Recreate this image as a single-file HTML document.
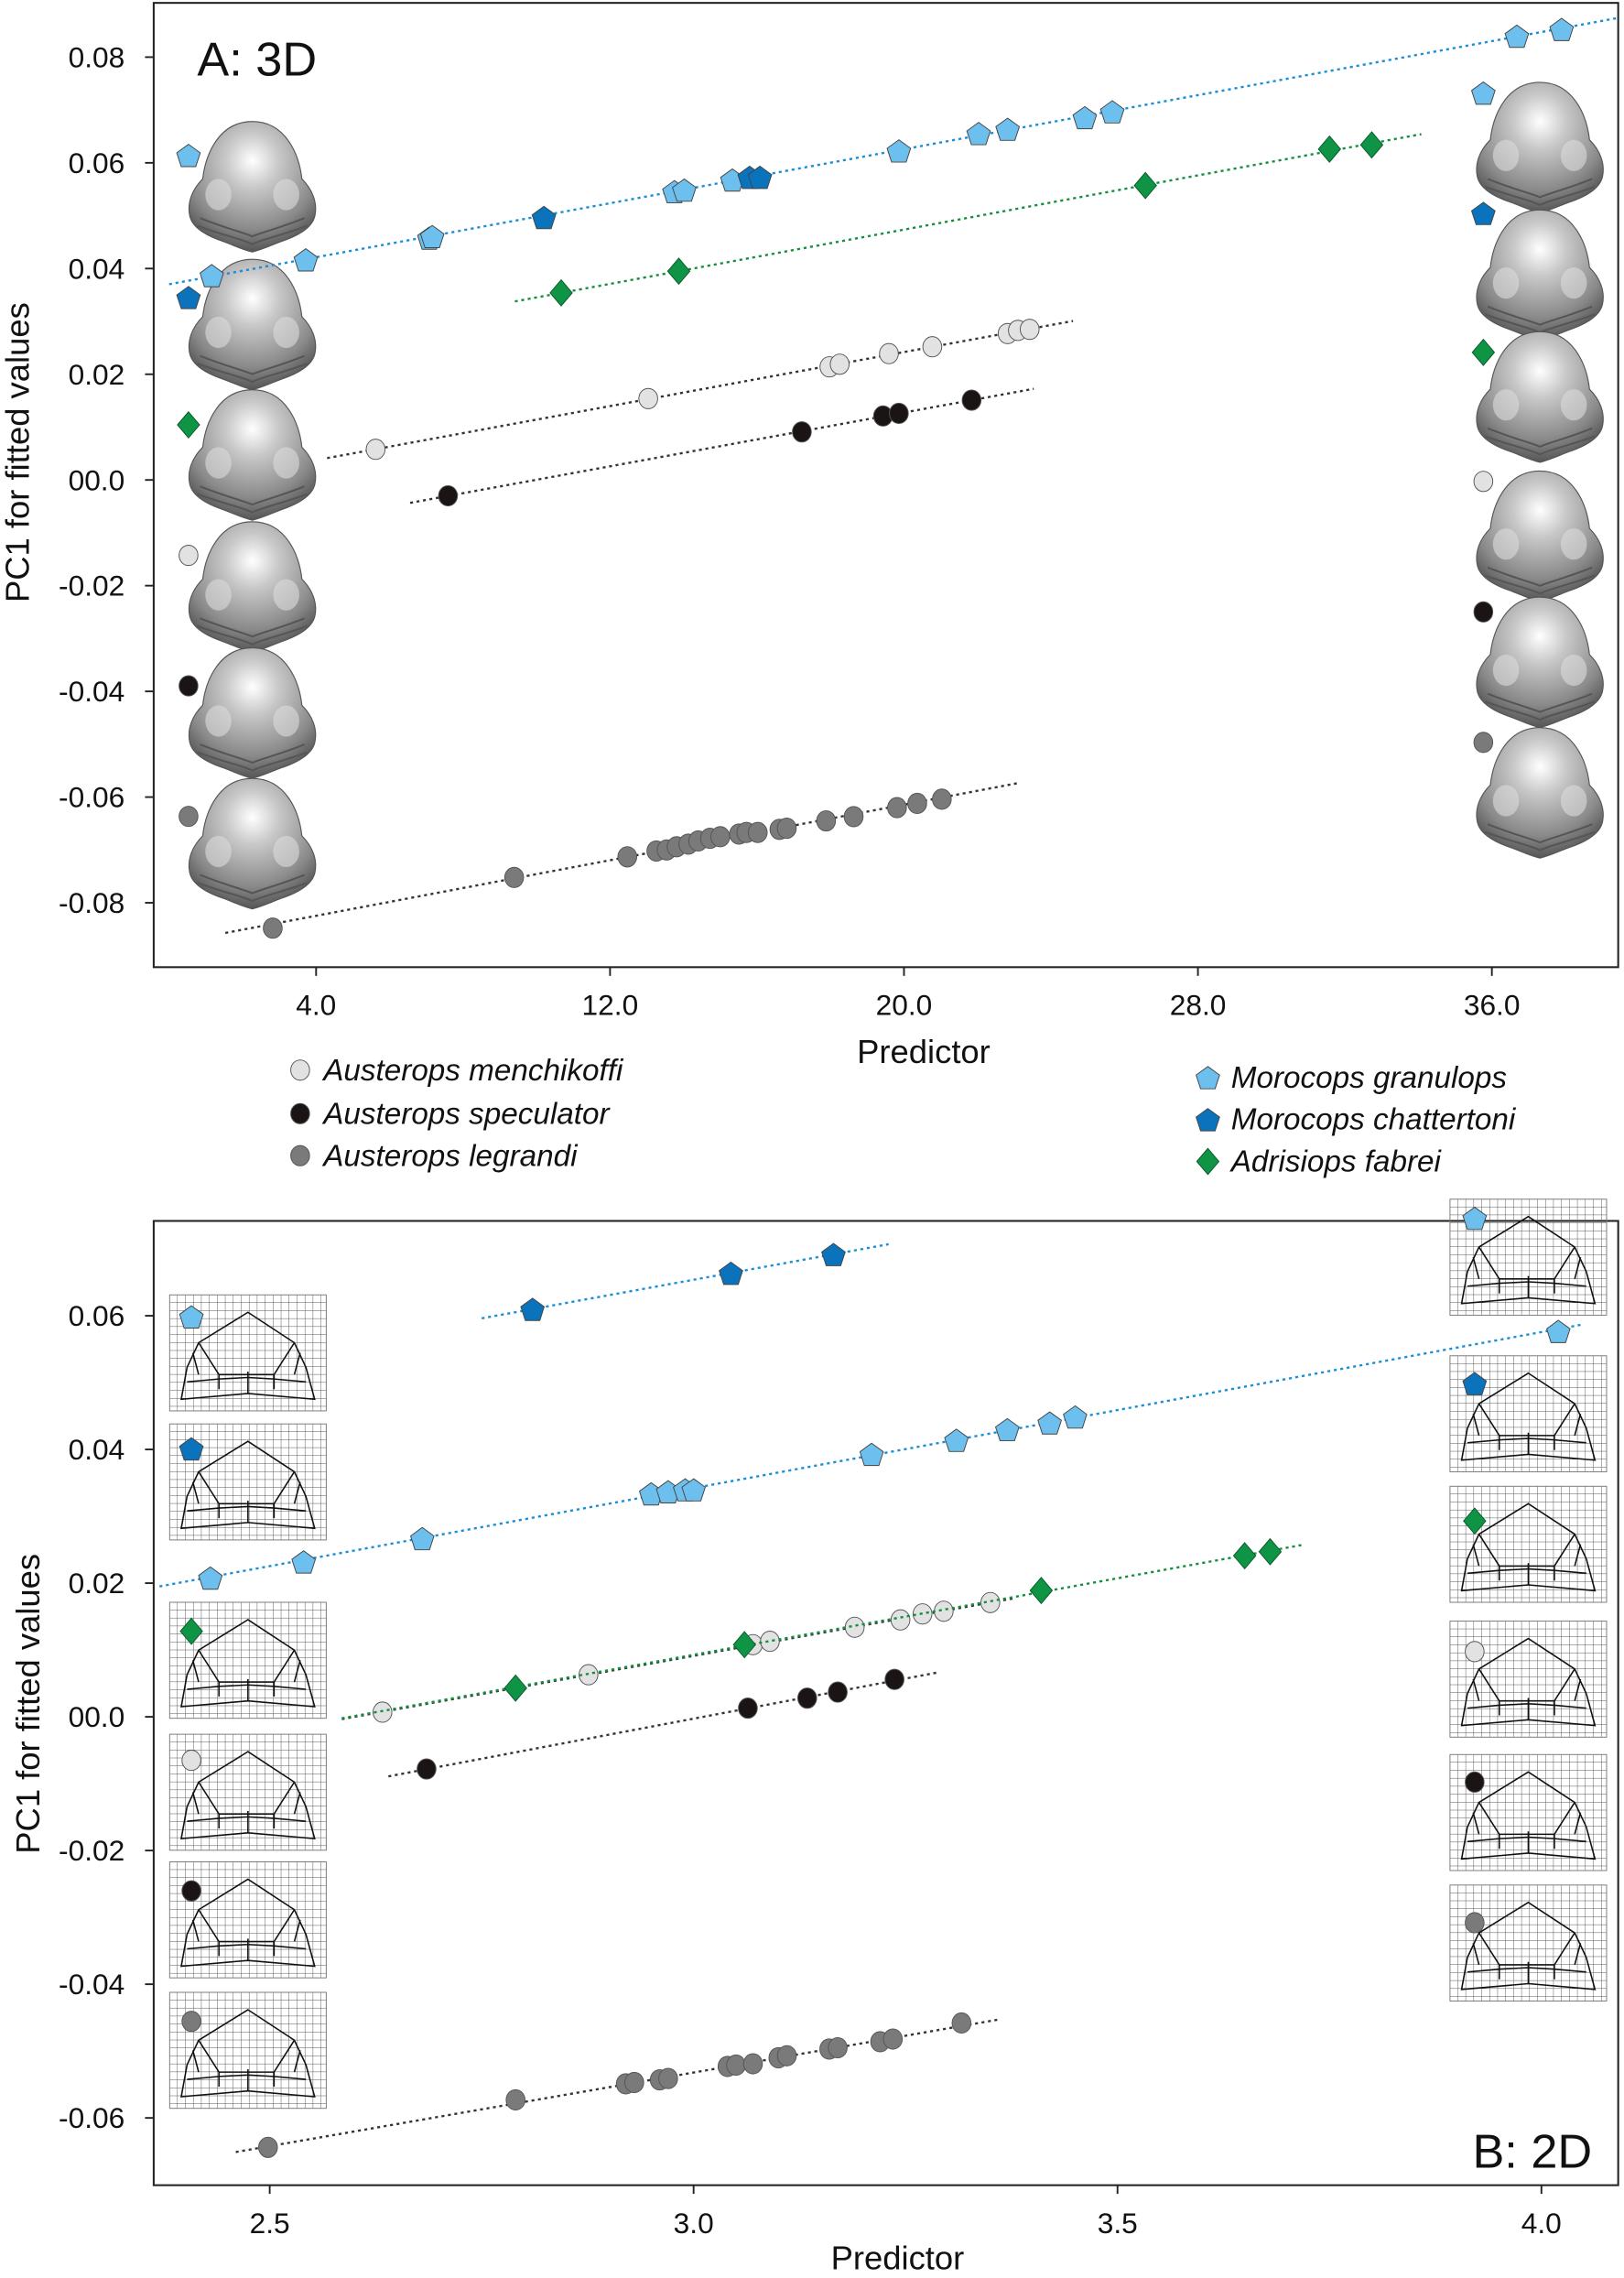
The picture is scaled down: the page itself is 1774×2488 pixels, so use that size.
<!DOCTYPE html>
<html><head><meta charset="utf-8">
<style>
html,body{margin:0;padding:0;background:#fff;}
svg{display:block;}
text{font-family:"Liberation Sans",sans-serif;fill:#111;}
</style></head>
<body>
<svg id="fig" xmlns="http://www.w3.org/2000/svg" width="1774" height="2488" viewBox="0 0 1120 1571" preserveAspectRatio="none">
<defs>
<radialGradient id="headGrad" cx="0.5" cy="0.3" r="0.7">
<stop offset="0" stop-color="#ffffff"/><stop offset="0.3" stop-color="#c8c8c8"/><stop offset="0.75" stop-color="#8a8a8a"/><stop offset="1" stop-color="#555"/>
</radialGradient>
<pattern id="gridPat" width="5.5" height="5.5" patternUnits="userSpaceOnUse">
<path d="M5.5 0V5.5M0 5.5H5.5" stroke="#555" stroke-width="0.6" fill="none"/>
</pattern>
</defs>
<g id="panelA">
<rect x="106" y="2" width="1010" height="665" fill="none" stroke="#222" stroke-width="1.3"/>
<text x="136" y="52" font-size="33">A: 3D</text>
<text x="637" y="733" font-size="23" text-anchor="middle">Predictor</text>
<text transform="translate(20,312) rotate(-90)" font-size="23" text-anchor="middle">PC1 for fitted values</text>
<g id="axA"></g>
<g id="iconsA"></g>
<g id="marksA"></g>
</g>
<g id="legend"></g>
<g id="panelB">
<rect x="106" y="842" width="1010" height="665" fill="none" stroke="#222" stroke-width="1.3"/>
<text x="1098" y="1495" font-size="33" text-anchor="end">B: 2D</text>
<text x="619" y="1565" font-size="23" text-anchor="middle">Predictor</text>
<text transform="translate(27,1175) rotate(-90)" font-size="23" text-anchor="middle">PC1 for fitted values</text>
<g id="axB"></g>
<g id="iconsB"></g>
<g id="marksB"></g>
</g>
</svg>
<script>
// ---- Panel A data ----
const aXTicks = [4, 12, 20, 28, 36];
const aXTickLabels = ["4.0", "12.0", "20.0", "28.0", "36.0"];
const aYTicks = [0.08, 0.06, 0.04, 0.02, 0, -0.02, -0.04, -0.06, -0.08];
const aYTickLabels = ["0.08", "0.06", "0.04", "0.02", "00.0", "-0.02", "-0.04", "-0.06", "-0.08"];
const aGranX = [1.16, 3.72, 7.08, 7.16, 13.75, 14.02, 15.33, 19.86, 22.03, 22.82, 24.92, 25.67, 36.68, 37.9];
const aGranY = [0.0387, 0.0417, 0.0458, 0.0461, 0.0546, 0.0549, 0.0568, 0.0623, 0.0656, 0.0664, 0.0686, 0.0697, 0.0840, 0.0853];
const aChatX = [10.2, 15.8, 16.08];
const aChatY = [0.0497, 0.0573, 0.0573];
const aFabX = [10.67, 13.87, 26.57, 31.58, 32.73];
const aFabY = [0.0354, 0.0395, 0.0557, 0.0626, 0.0634];
const aMenX = [5.62, 13.04, 17.97, 18.25, 19.59, 20.77, 22.82, 23.1, 23.42];
const aMenY = [0.0058, 0.0154, 0.0214, 0.0219, 0.0239, 0.0252, 0.0277, 0.0283, 0.0285];
const aSpeX = [7.59, 17.22, 19.43, 19.86, 21.84];
const aSpeY = [-0.0030, 0.0091, 0.0121, 0.0126, 0.0151];
const aLegX = [2.82, 9.39, 12.47, 13.26, 13.54, 13.81, 14.13, 14.4, 14.72, 15.0, 15.51, 15.71, 16.02, 16.61, 16.81, 17.88, 18.63, 19.81, 20.36, 21.03];
const aLegY = [-0.0848, -0.0752, -0.0713, -0.0702, -0.0700, -0.0694, -0.0689, -0.0683, -0.0678, -0.0675, -0.0670, -0.0667, -0.0667, -0.0661, -0.0659, -0.0645, -0.0637, -0.0620, -0.0612, -0.0604];
const aGranLine = [0.0, 39.4];
const aChatLine = [];
const aFabLine = [9.41, 34.08];
const aMenLine = [4.3, 24.6];
const aSpeLine = [6.56, 23.53];
const aLegLine = [1.53, 23.16];

// ---- Panel B data ----
const bXTicks = [2.5, 3.0, 3.5, 4.0];
const bXTickLabels = ["2.5", "3.0", "3.5", "4.0"];
const bYTicks = [0.06, 0.04, 0.02, 0, -0.02, -0.04, -0.06];
const bYTickLabels = ["0.06", "0.04", "0.02", "00.0", "-0.02", "-0.04", "-0.06"];
const bChatX = [2.81, 3.044, 3.165];
const bChatY = [0.0610, 0.0664, 0.0692];
const bGranX = [2.43, 2.54, 2.68, 2.95, 2.97, 2.99, 3.0, 3.21, 3.31, 3.37, 3.42, 3.45, 4.02];
const bGranY = [0.0208, 0.0232, 0.0267, 0.0334, 0.0337, 0.0340, 0.0340, 0.0393, 0.0414, 0.0430, 0.0440, 0.0449, 0.0577];
const bFabX = [2.79, 3.06, 3.41, 3.65, 3.68];
const bFabY = [0.0043, 0.0108, 0.0189, 0.0241, 0.0247];
const bMenX = [2.633, 2.876, 3.07, 3.09, 3.19, 3.244, 3.27, 3.295, 3.35];
const bMenY = [0.0007, 0.0063, 0.0108, 0.0113, 0.0134, 0.0145, 0.0154, 0.0158, 0.0171];
const bSpeX = [2.685, 3.064, 3.134, 3.17, 3.237];
const bSpeY = [-0.0078, 0.0013, 0.0028, 0.0037, 0.0056];
const bLegX = [2.498, 2.79, 2.92, 2.93, 2.96, 2.97, 3.04, 3.05, 3.07, 3.10, 3.11, 3.16, 3.17, 3.22, 3.235, 3.316];
const bLegY = [-0.0644, -0.0573, -0.0549, -0.0547, -0.0543, -0.0541, -0.0523, -0.0521, -0.0519, -0.0510, -0.0507, -0.0497, -0.0495, -0.0486, -0.0482, -0.0458];
const bChatLine = [2.75, 3.23];
const bGranLine = [2.37, 4.05];
const bFabLine = [2.585, 3.72];
const bMenLine = [2.585, 3.38];
const bSpeLine = [2.64, 3.29];
const bLegLine = [2.46, 3.36];

const NS = "http://www.w3.org/2000/svg";
function mk(tag, attrs, parent){const e=document.createElementNS(NS,tag);for(const k in attrs)e.setAttribute(k,attrs[k]);parent.appendChild(e);return e;}

const xA = v => 218 + (v - 4) * 25.34;
const yA = v => 331 - v * 3645;
const xB = v => 186 + (v - 2.5) * 584.7;
const yB = v => 1184 - v * 4610;

const COL = {gran:"#6dc0ee", chat:"#0a73bb", fab:"#0e9444", men:"#e2e2e2", spe:"#1a1414", leg:"#7a7a7a"};

function marker(type, cx, cy, fill, parent, name){
  let e;
  if(type==="pent"){
    const r=8.5, pts=[];
    for(let k=0;k<5;k++){const a=(-90+72*k)*Math.PI/180;pts.push((cx+r*Math.cos(a)).toFixed(1)+","+(cy+r*Math.sin(a)+1).toFixed(1));}
    e=mk("polygon",{points:pts.join(" "),fill:fill,stroke:"#444","stroke-width":0.6},parent);
  } else if(type==="dia"){
    const r=9;
    e=mk("polygon",{points:`${cx},${cy-r} ${cx+r*0.85},${cy} ${cx},${cy+r} ${cx-r*0.85},${cy}`,fill:fill,stroke:"#0a5a2a","stroke-width":0.6},parent);
  } else {
    e=mk("ellipse",{cx:cx,cy:cy,rx:6.5,ry:7,fill:fill,stroke:"#555","stroke-width":0.6},parent);
  }
  
  
  return e;
}

function axes(g, xs, xl, ys, yl, fx, fy, top, bottom, left, tickY){
  xs.forEach((v,i)=>{
    const l=mk("line",{x1:fx(v),x2:fx(v),y1:bottom,y2:bottom+6,stroke:"#222","stroke-width":1.2},g);
    
    
    const t=mk("text",{x:fx(v),y:tickY,"font-size":20,"text-anchor":"middle"},g);
    t.textContent=xl[i];
    
    
  });
  ys.forEach((v,i)=>{
    const l=mk("line",{x1:left-6,x2:left,y1:fy(v),y2:fy(v),stroke:"#222","stroke-width":1.2},g);
    
    
    const t=mk("text",{x:86,y:fy(v)+7,"font-size":20,"text-anchor":"end"},g);
    t.textContent=yl[i];
    
    
  });
}

function series(g, xsArr, ysArr, range, fx, fy, type, col, lineCol, name){
  const n=xsArr.length;
  if(range.length===2){
    let mx=0,my=0;for(let i=0;i<n;i++){mx+=xsArr[i];my+=ysArr[i];}mx/=n;my/=n;
    let sxy=0,sxx=0;for(let i=0;i<n;i++){sxy+=(xsArr[i]-mx)*(ysArr[i]-my);sxx+=(xsArr[i]-mx)**2;}
    const b=sxy/sxx,a=my-b*mx;
    const l=mk("line",{x1:fx(range[0]),y1:fy(a+b*range[0]),x2:fx(range[1]),y2:fy(a+b*range[1]),stroke:lineCol,"stroke-width":1.5,"stroke-dasharray":"2 2.5"},g);
    
    
  }
  for(let i=0;i<n;i++) marker(type, fx(xsArr[i]), fy(ysArr[i]), col, g, name+'-point');
}

axes(document.getElementById("axA"), aXTicks, aXTickLabels, aYTicks, aYTickLabels, xA, yA, 2, 667, 106, 700);
axes(document.getElementById("axB"), bXTicks, bXTickLabels, bYTicks, bYTickLabels, xB, yB, 842, 1507, 106, 1540);

// Panel A icons (3D heads)
const iconsA=document.getElementById("iconsA");
const headPath="M0,-48 C26,-48 36,-22 38,-4 C46,4 50,14 48,24 C46,34 34,40 22,44 C14,47 8,50 0,52 C-8,50 -14,47 -22,44 C-34,40 -46,34 -48,24 C-50,14 -46,4 -38,-4 C-36,-22 -26,-48 0,-48Z";
const headLeftY=[127,222,312,403,490,580];
const headRightY=[100,188,272,368,455,545];
const orderCols=["gran","chat","fab","men","spe","leg"];
const orderTypes=["pent","pent","dia","circ","circ","circ"];
const mkLeftA=[107,205,293,383,473,563];
const mkRightA=[64,147,243,332,422,512];
function head(cx,cy){
  const g=mk("g",{transform:`translate(${cx},${cy}) scale(0.9)`},iconsA);
  
  
  mk("path",{d:headPath,fill:"url(#headGrad)",stroke:"#555","stroke-width":0.8},g);
  mk("path",{d:"M-40,26 C-20,34 -10,36 0,40 C10,36 20,34 40,26 M-42,32 C-20,40 -8,42 0,46 C8,42 20,40 42,32",fill:"none",stroke:"#555","stroke-width":1.4},g);
  mk("ellipse",{cx:-26,cy:8,rx:10,ry:12,fill:"#dcdcdc",opacity:0.6},g);
  mk("ellipse",{cx:26,cy:8,rx:10,ry:12,fill:"#dcdcdc",opacity:0.6},g);
}
headLeftY.forEach(y=>head(174,y));
headRightY.forEach(y=>head(1062,y));
orderCols.forEach((c,i)=>{marker(orderTypes[i],130,mkLeftA[i],COL[c],iconsA,'icon-marker');marker(orderTypes[i],1023,mkRightA[i],COL[c],iconsA,'icon-marker');});

const mA=document.getElementById("marksA");
series(mA,aGranX,aGranY,aGranLine,xA,yA,"pent",COL.gran,"#1a8fd8","granulops-a");
series(mA,aFabX,aFabY,aFabLine,xA,yA,"dia",COL.fab,"#14903c","fabrei-a");
series(mA,aMenX,aMenY,aMenLine,xA,yA,"circ",COL.men,"#333","menchikoffi-a");
series(mA,aSpeX,aSpeY,aSpeLine,xA,yA,"circ",COL.spe,"#333","speculator-a");
series(mA,aLegX,aLegY,aLegLine,xA,yA,"circ",COL.leg,"#333","legrandi-a");
series(mA,aChatX,aChatY,aChatLine,xA,yA,"pent",COL.chat,"#1a8fd8","chattertoni-a");

// Panel B icons (grids)
const iconsB=document.getElementById("iconsB");
const gridLeftY=[893,982,1105,1196,1284,1374];
const gridRightY=[827,935,1025,1118,1210,1300];
const mkLeftB=[908,999,1125,1214,1304,1394];
const mkRightB=[840,954,1049,1139,1229,1326];
function gridIcon(x,y){
  const g=mk("g",{transform:`translate(${x},${y})`},iconsB);
  
  
  mk("rect",{x:0,y:0,width:108,height:80,fill:"url(#gridPat)",stroke:"#777","stroke-width":0.6},g);
  mk("path",{d:"M54,12 L20,33 L12,50 L8,72 L54,68 L100,72 L94,50 L86,33 Z M20,33 L34,55 L34,65 M86,33 L72,55 L72,65 M12,60 L34,58 L54,57 L72,58 L94,60 M34,55 L72,55 M54,53 L54,68 M16,40 L20,55 M90,40 L86,55",fill:"none",stroke:"#111","stroke-width":1},g);
}
gridLeftY.forEach(y=>gridIcon(117,y));
gridRightY.forEach(y=>gridIcon(1000,y));
orderCols.forEach((c,i)=>{marker(orderTypes[i],132,mkLeftB[i],COL[c],iconsB,'icon-marker');marker(orderTypes[i],1017,mkRightB[i],COL[c],iconsB,'icon-marker');});

const mB=document.getElementById("marksB");
series(mB,bChatX,bChatY,bChatLine,xB,yB,"pent",COL.chat,"#1a8fd8","chattertoni-b");
series(mB,bGranX,bGranY,bGranLine,xB,yB,"pent",COL.gran,"#1a8fd8","granulops-b");
series(mB,bMenX,bMenY,bMenLine,xB,yB,"circ",COL.men,"#333","menchikoffi-b");
series(mB,bFabX,bFabY,bFabLine,xB,yB,"dia",COL.fab,"#14903c","fabrei-b");
series(mB,bSpeX,bSpeY,bSpeLine,xB,yB,"circ",COL.spe,"#333","speculator-b");
series(mB,bLegX,bLegY,bLegLine,xB,yB,"circ",COL.leg,"#333","legrandi-b");

// Legend
const lg=document.getElementById("legend");
const legNames=["Austerops menchikoffi","Austerops speculator","Austerops legrandi","Morocops granulops","Morocops chattertoni","Adrisiops fabrei"];
const legX=[207,207,207,833,833,833];
const legY=[738,768,797,743,772,801];
legNames.forEach((n,i)=>{
  const c=orderCols[[3,4,5,0,1,2][i]], t=orderTypes[[3,4,5,0,1,2][i]];
  marker(t,legX[i],legY[i],COL[c],lg,'legend-marker');
  const tx=mk("text",{x:legX[i]+16,y:legY[i]+7,"font-size":21,"font-style":"italic"},lg);
  tx.textContent=n;
  
  
});
</script>
</body></html>
